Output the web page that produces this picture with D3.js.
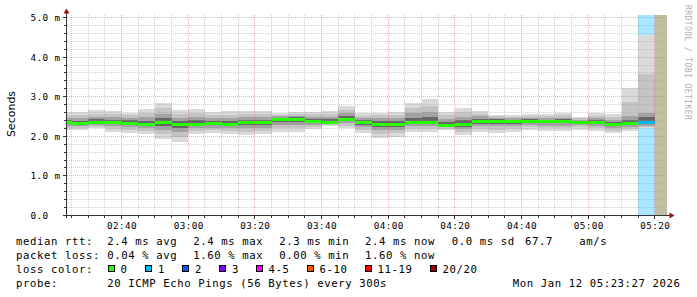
<!DOCTYPE html>
<html>
<head>
<meta charset="utf-8">
<script src="https://cdn.jsdelivr.net/npm/d3@7"></script>
<style>
  body { margin: 0; background: #fff; }
  svg text { white-space: pre; }
</style>
</head>
<body>
<div id="chart"></div>
<script>
// one value per 5 minute step, first step ends 02:25, last ends 05:20 (ms)
var medianRtt = [2.35, 2.33, 2.36, 2.36, 2.34, 2.31, 2.35, 2.32, 2.32, 2.33, 2.32, 2.35,
  2.35, 2.43, 2.44, 2.38, 2.37, 2.43, 2.35, 2.32, 2.32, 2.36, 2.36, 2.28,
  2.31, 2.38, 2.39, 2.38, 2.39, 2.38, 2.38, 2.37, 2.36, 2.30, 2.33, 2.36];
var maxRtt = [2.62, 2.62, 2.66, 2.64, 2.60, 2.69, 2.85, 2.66, 2.69, 2.61, 2.64, 2.64,
  2.64, 2.58, 2.62, 2.62, 2.64, 2.77, 2.58, 2.60, 2.62, 2.85, 2.93, 2.62,
  2.72, 2.64, 2.55, 2.54, 2.56, 2.56, 2.58, 2.48, 2.59, 2.56, 3.21, 4.57];
var minRtt = [2.17, 2.16, 2.20, 2.11, 2.09, 2.06, 1.93, 1.86, 2.07, 2.09, 2.06, 2.03,
  2.06, 2.11, 2.11, 2.18, 2.26, 2.20, 2.09, 1.96, 1.99, 2.11, 2.11, 2.16,
  2.03, 2.11, 2.09, 2.11, 2.16, 2.14, 2.14, 2.17, 2.14, 2.09, 2.13, 2.20];
var upperRtt = [2.47, 2.46, 2.49, 2.48, 2.46, 2.48, 2.56, 2.47, 2.49, 2.45, 2.46, 2.48,
  2.48, 2.50, 2.51, 2.49, 2.49, 2.58, 2.45, 2.45, 2.46, 2.58, 2.62, 2.43,
  2.49, 2.50, 2.46, 2.45, 2.47, 2.46, 2.47, 2.42, 2.46, 2.42, 2.51, 2.60];
var lowerRtt = [2.27, 2.25, 2.28, 2.25, 2.23, 2.20, 2.17, 2.11, 2.21, 2.22, 2.20, 2.21,
  2.22, 2.29, 2.29, 2.29, 2.32, 2.33, 2.23, 2.16, 2.17, 2.25, 2.25, 2.23,
  2.18, 2.26, 2.25, 2.25, 2.29, 2.27, 2.27, 2.28, 2.26, 2.20, 2.23, 2.27];
// index into lossBins for each step
var lossLevel = [0, 0, 0, 0, 0, 0, 0, 0, 0, 0, 0, 0, 0, 0, 0, 0, 0, 0,
  0, 0, 0, 0, 0, 0, 0, 0, 0, 0, 0, 0, 0, 0, 0, 0, 0, 1];

var lossBins = ['0', '1', '2', '3', '4-5', '6-10', '11-19', '20/20'];
var lossColors = ['#26ff00', '#00b8ff', '#0059ff', '#7e00ff', '#ff00ff', '#ff5500', '#ff0000', '#a10000'];
var rttStats = ['2.4 ms avg', '2.4 ms max', '2.3 ms min', '2.4 ms now', '0.0 ms sd', '67.7', 'am/s'];
var lossStats = ['0.04 % avg', '1.60 % max', '0.00 % min', '1.60 % now'];
var yTicks = ['0.0', '1.0 m', '2.0 m', '3.0 m', '4.0 m', '5.0 m'];
var probeText = '20 ICMP Echo Pings (56 Bytes) every 300s';
var stampText = 'Mon Jan 12 05:23:27 2026';

var W = 697, H = 297;
var tStart = new Date(2026, 0, 12, 2, 23, 30),
  tEnd = new Date(2026, 0, 12, 5, 23, 30),
  firstStep = new Date(2026, 0, 12, 2, 25, 0);

var x = d3.scaleTime().domain([tStart, tEnd]).range([66.5, 666.5]);
var y = d3.scaleLinear().domain([0, 5.05]).range([215.5, 15.5]);

function cr(v) {
  return Math.floor(v) + 0.5;
}

var svg = d3
  .select('#chart')
  .append('svg')
  .attr('width', W)
  .attr('height', H)
  .attr('shape-rendering', 'crispEdges');

svg.append('rect').attr('width', W).attr('height', H).attr('fill', '#fff');

svg
  .append('clipPath')
  .attr('id', 'plot')
  .append('rect')
  .attr('x', 67)
  .attr('y', 15)
  .attr('width', 600)
  .attr('height', 200);

var steps = medianRtt.map(function (m, i) {
  var end = d3.timeMinute.offset(firstStep, 5 * i);
  return {
    t0: d3.timeMinute.offset(end, -5),
    t1: end,
    med: m,
    lo: minRtt[i],
    hi: maxRtt[i],
    q1: lowerRtt[i],
    q3: upperRtt[i],
    loss: lossLevel[i]
  };
});

var plot = svg.append('g').attr('clip-path', 'url(#plot)');

function colX(d) {
  return Math.round(x(d.t0));
}
function colW(d) {
  return Math.round(x(d.t1)) - Math.round(x(d.t0));
}

// loss background
plot
  .selectAll('rect.lossbg')
  .data(steps.filter(function (d) { return d.loss > 0; }))
  .join('rect')
  .attr('class', 'lossbg')
  .attr('x', colX)
  .attr('y', 15)
  .attr('width', colW)
  .attr('height', 200)
  .attr('fill', function (d) {
    return d3.interpolateRgb(lossColors[d.loss], '#fff')(0.66);
  });

// unknown (no data yet)
var lastEnd = steps[steps.length - 1].t1;
plot
  .append('rect')
  .attr('x', Math.round(x(lastEnd)))
  .attr('y', 15)
  .attr('width', 667 - Math.round(x(lastEnd)))
  .attr('height', 200)
  .attr('fill', '#c0bea0');

// smoke
function band(cls, lo, hi, fill) {
  plot
    .selectAll('rect.' + cls)
    .data(steps)
    .join('rect')
    .attr('class', cls)
    .attr('x', colX)
    .attr('width', colW)
    .attr('y', function (d) { return Math.round(y(hi(d))); })
    .attr('height', function (d) { return Math.round(y(lo(d))) - Math.round(y(hi(d))); })
    .attr('fill', fill);
}
band('s1', function (d) { return d.lo; }, function (d) { return d.hi; }, '#dadada');
band('s2', function (d) { return (d.lo + d.q1) / 2; }, function (d) { return (d.hi + d.q3) / 2; }, '#c4c4c4');
band('s3', function (d) { return d.q1; }, function (d) { return d.q3; }, '#a2a2a2');
band('s4', function (d) { return (d.q1 + d.med) / 2; }, function (d) { return (d.q3 + d.med) / 2; }, '#666666');

// median
plot
  .selectAll('rect.median')
  .data(steps)
  .join('rect')
  .attr('class', 'median')
  .attr('x', colX)
  .attr('width', colW)
  .attr('y', function (d) { return Math.round(y(d.med)) - 1; })
  .attr('height', 3)
  .attr('fill', function (d) { return lossColors[d.loss]; });

// grid (drawn over the data, like rrdtool)
var grid = svg.append('g').attr('stroke-dasharray', '1,1').attr('stroke-width', 1);
d3.range(1, 26).forEach(function (i) {
  var major = i % 5 === 0;
  grid
    .append('line')
    .attr('x1', 67)
    .attr('x2', 667)
    .attr('y1', cr(y(i / 5)))
    .attr('y2', cr(y(i / 5)))
    .attr('stroke', major ? '#ff4040' : '#a0a0a0')
    .attr('stroke-opacity', major ? 0.45 : 0.5);
});
var minorTimes = d3.timeMinute.every(5).range(tStart, tEnd);
minorTimes.forEach(function (t) {
  var major = t.getMinutes() % 20 === 0;
  grid
    .append('line')
    .attr('x1', cr(x(t)))
    .attr('x2', cr(x(t)))
    .attr('y1', 15)
    .attr('y2', 215)
    .attr('stroke', major ? '#ff4040' : '#a0a0a0')
    .attr('stroke-opacity', major ? 0.45 : 0.5);
});

// axes
var axisCol = '#333',
  arrowCol = '#9a1010';
svg.append('line').attr('x1', 66.5).attr('x2', 66.5).attr('y1', 12).attr('y2', 218).attr('stroke', axisCol);
svg.append('line').attr('x1', 63).attr('x2', 670).attr('y1', 215.5).attr('y2', 215.5).attr('stroke', axisCol);
svg.append('path').attr('d', 'M66.5,8.5L63.5,13.5L69.5,13.5Z').attr('fill', arrowCol).attr('shape-rendering', 'auto');
svg.append('path').attr('d', 'M674.5,215.5L669.5,212.5L669.5,218.5Z').attr('fill', arrowCol).attr('shape-rendering', 'auto');

d3.range(1, 26).forEach(function (i) {
  var len = i % 5 === 0 ? 3 : 2;
  svg
    .append('line')
    .attr('x1', 66 - len)
    .attr('x2', 66)
    .attr('y1', cr(y(i / 5)))
    .attr('y2', cr(y(i / 5)))
    .attr('stroke', axisCol);
});
minorTimes.forEach(function (t) {
  var len = t.getMinutes() % 20 === 0 ? 3 : 2;
  svg
    .append('line')
    .attr('x1', cr(x(t)))
    .attr('x2', cr(x(t)))
    .attr('y1', 216)
    .attr('y2', 216 + len)
    .attr('stroke', axisCol);
});

// tick labels
var mono = "'DejaVu Sans Mono', monospace";
svg
  .append('g')
  .selectAll('text')
  .data(yTicks)
  .join('text')
  .attr('x', 30.5)
  .attr('y', function (d, i) { return cr(y(i)) + 3.5; })
  .attr('font-family', mono)
  .attr('font-size', 9.33)
  .attr('letter-spacing', 0.38)
  .attr('fill', '#000')
  .text(function (d) { return d; });

svg
  .append('g')
  .selectAll('text')
  .data(minorTimes.filter(function (t) { return t.getMinutes() % 20 === 0; }))
  .join('text')
  .attr('x', function (t) { return x(t) + 0.5; })
  .attr('y', 228.5)
  .attr('text-anchor', 'middle')
  .attr('font-family', mono)
  .attr('font-size', 9.33)
  .attr('letter-spacing', 0.38)
  .attr('fill', '#000')
  .text(d3.timeFormat('%H:%M'));

svg
  .append('text')
  .attr('transform', 'translate(15,114) rotate(-90)')
  .attr('text-anchor', 'middle')
  .attr('font-family', "'DejaVu Sans', sans-serif")
  .attr('font-size', 11)
  .attr('fill', '#000')
  .text('Seconds');

svg
  .append('text')
  .attr('transform', 'translate(685,5) rotate(90)')
  .attr('font-family', mono)
  .attr('font-size', 8)
  .attr('letter-spacing', 0.42)
  .attr('fill', '#b0b0b0')
  .text('RRDTOOL / TOBI OETIKER');

// legend
function legendText(str, lx, ly) {
  svg
    .append('text')
    .attr('x', lx)
    .attr('y', ly)
    .attr('font-family', mono)
    .attr('font-size', 10.67)
    .attr('letter-spacing', 0.58)
    .attr('fill', '#000')
    .text(str);
}
var statX = [107.3, 193.3, 279.3, 365, 451.7, 525, 579.3];

legendText('median rtt:', 16, 244.5);
rttStats.forEach(function (s, i) { legendText(s, statX[i], 244.5); });
legendText('packet loss:', 16, 258.5);
lossStats.forEach(function (s, i) { legendText(s, statX[i], 258.5); });
legendText('loss color:', 16, 272.5);
var swatchX = [108, 145.5, 182.5, 219.5, 256, 307, 365, 430];
lossBins.forEach(function (b, i) {
  svg
    .append('rect')
    .attr('x', Math.floor(swatchX[i]) + 0.5)
    .attr('y', 265.5)
    .attr('width', 6)
    .attr('height', 6)
    .attr('fill', lossColors[i])
    .attr('stroke', '#000');
  legendText(b, swatchX[i] + 12.5, 272.5);
});
legendText('probe:', 16, 286.5);
legendText(probeText, 107.3, 286.5);
legendText(stampText, 512.7, 286.5);
</script>
</body>
</html>
